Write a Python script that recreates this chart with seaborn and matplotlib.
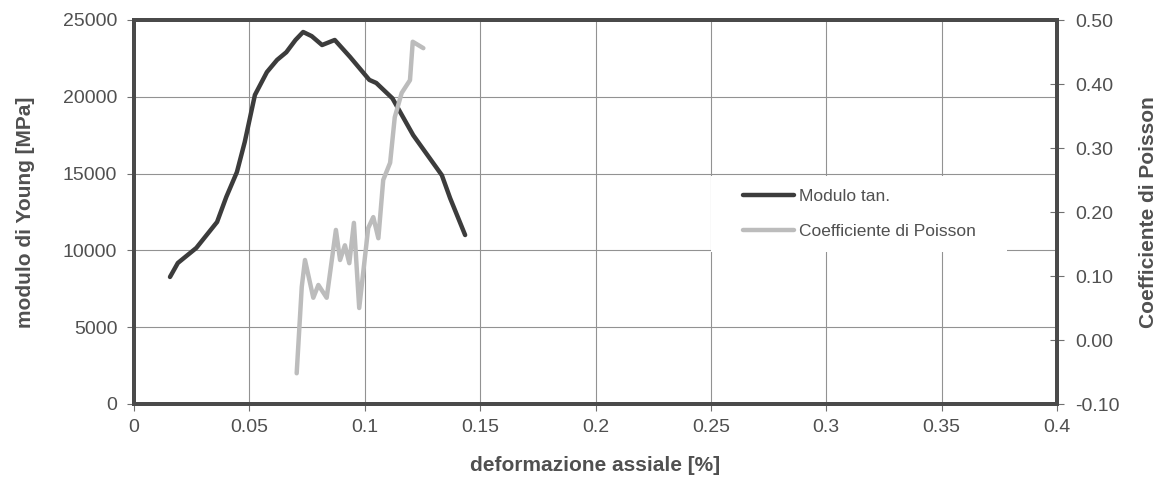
import matplotlib
matplotlib.use("Agg")
import matplotlib.pyplot as plt
from matplotlib.patches import Rectangle
import seaborn as sns
import pandas as pd

# Modulo tangente (left axis)
mod_x = [0.0156, 0.019, 0.027, 0.036, 0.040, 0.0446, 0.048, 0.0524, 0.0576, 0.062,
         0.066, 0.070, 0.0733, 0.077, 0.0815, 0.087, 0.0936, 0.102, 0.105, 0.112,
         0.121, 0.1334, 0.137, 0.1435]
mod_y = [8270, 9180, 10160, 11850, 13480, 15100, 17060, 20120, 21610, 22400,
         22900, 23700, 24220, 23950, 23370, 23700, 22600, 21100, 20900, 19900,
         17500, 14900, 13400, 11000]

# Coefficiente di Poisson (right axis)
poi_x = [0.0705, 0.0727, 0.0741, 0.0777, 0.0799, 0.0835, 0.0875, 0.0893, 0.0914, 0.0933,
         0.0953, 0.0976, 0.1015, 0.1037, 0.1059, 0.108, 0.111, 0.113, 0.116, 0.1196,
         0.1208, 0.1254]
poi_y = [-0.052, 0.083, 0.125, 0.066, 0.086, 0.066, 0.172, 0.125, 0.148, 0.120,
         0.183, 0.050, 0.175, 0.192, 0.159, 0.250, 0.277, 0.348, 0.386, 0.406,
         0.466, 0.456]

x_ticks = [0, 0.05, 0.1, 0.15, 0.2, 0.25, 0.3, 0.35, 0.4]
x_labels = ["0", "0.05", "0.1", "0.15", "0.2", "0.25", "0.3", "0.35", "0.4"]
yl_ticks = [0, 5000, 10000, 15000, 20000, 25000]
yr_ticks = [-0.1, 0.0, 0.1, 0.2, 0.3, 0.4, 0.5]

sns.set_theme(style="white")
plt.rcParams['font.family'] = ['Liberation Sans', 'DejaVu Sans']

fig = plt.figure(figsize=(11.64, 4.79), dpi=100)
ax = fig.add_axes([134/1164, 1 - 404/479, (1057-134)/1164, (404-20)/479])
ax2 = ax.twinx()

dark = "#3c3c3c"
light = "#bcbcbc"
txt = "#505050"

df_m = pd.DataFrame({"x": mod_x, "y": mod_y})
df_p = pd.DataFrame({"x": poi_x, "y": poi_y})
sns.lineplot(data=df_m, x="x", y="y", ax=ax, color=dark, lw=3.2, label="Modulo tan.", legend=False)
sns.lineplot(data=df_p, x="x", y="y", ax=ax2, color=light, lw=3.2, label="Coefficiente di Poisson", legend=False)

ax.set_xlim(0, 0.4)
ax.set_ylim(0, 25000)
ax2.set_ylim(-0.1, 0.5)
ax.set_xticks(x_ticks)
ax.set_xticklabels(x_labels)
ax.set_yticks(yl_ticks)
ax.set_yticklabels([str(v) for v in yl_ticks])
ax2.set_yticks(yr_ticks)
ax2.set_yticklabels([f"{v:.2f}" for v in yr_ticks])

ax.set_axisbelow(True)
ax.grid(True, color="#929292", lw=0.8)
ax2.grid(False)

# white legend area hiding the grid
ax.add_patch(Rectangle((0.625, 0.396), 0.321, 0.198, transform=ax.transAxes,
                       facecolor="white", edgecolor="none", zorder=1))

for a in (ax, ax2):
    for s in a.spines.values():
        s.set_color("#4a4a4a")
        s.set_linewidth(2.8)

ax.tick_params(axis="x", direction="out", length=5, width=0.8, color="#707070",
               labelsize=14, labelcolor=txt, pad=6, bottom=True)
ax.tick_params(axis="y", direction="out", length=5, width=0.8, color="#707070",
               labelsize=14, labelcolor=txt, pad=7, left=True)
ax2.tick_params(axis="y", direction="inout", length=10, width=0.8, color="#707070",
                labelsize=14, labelcolor=txt, pad=8, right=True)

ax.set_xlabel("deformazione assiale [%]", fontsize=15, fontweight="bold", color=txt, labelpad=14)
ax.set_ylabel("modulo di Young [MPa]", fontsize=15, fontweight="bold", color=txt, labelpad=20)
ax2.set_ylabel("Coefficiente di Poisson", fontsize=15, fontweight="bold", color=txt, labelpad=14)

h1, l1 = ax.get_legend_handles_labels()
h2, l2 = ax2.get_legend_handles_labels()
leg = ax2.legend(h1 + h2, l1 + l2, loc="center left", bbox_to_anchor=(0.66, 0.495),
                 frameon=False, fontsize=12.5, handlelength=2.9, handletextpad=0.3,
                 labelspacing=1.15, borderaxespad=0, borderpad=0)
for t in leg.get_texts():
    t.set_color(txt)

fig.savefig("out.png", dpi=100)
